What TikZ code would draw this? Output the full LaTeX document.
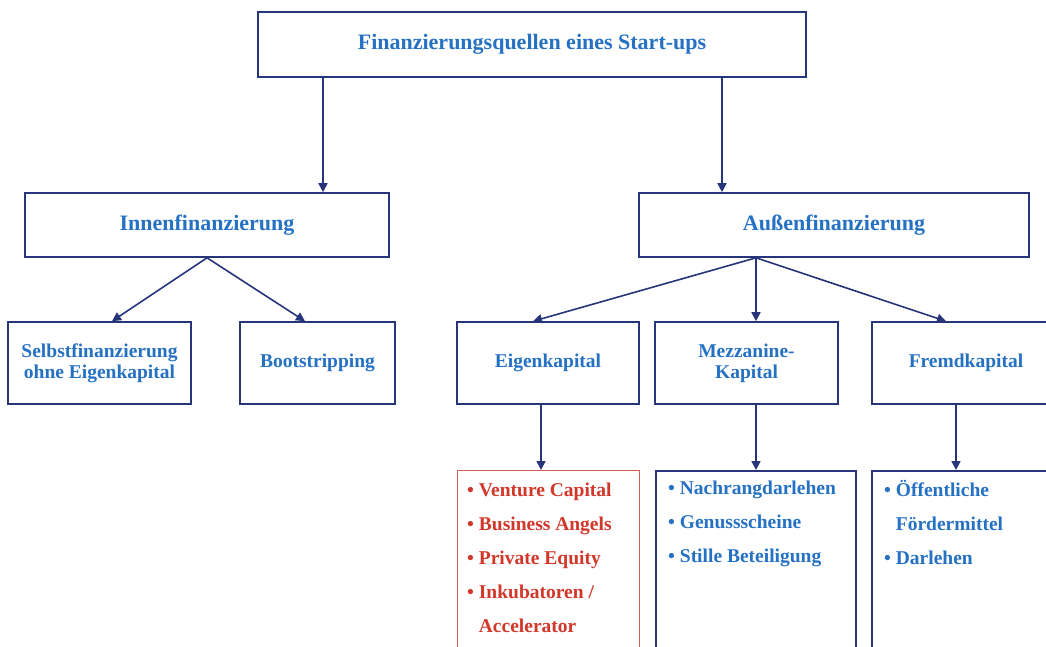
\documentclass[tikz,border=0pt]{standalone}
\usepackage{fontspec}
\setmainfont{Liberation Serif}
\usetikzlibrary{arrows.meta}
\definecolor{navy}{HTML}{27367A}
\definecolor{txtblue}{HTML}{2571C4}
\definecolor{txtred}{HTML}{D2372A}
\definecolor{redline}{HTML}{D06050}
\tikzset{
  box/.style={draw=navy, line width=1.6pt, rectangle, inner sep=0pt, text=txtblue, font=\bfseries},
  big/.style={font=\bfseries\fontsize{22}{26}\selectfont},
  mid/.style={align=center, font=\bfseries\fontsize{19.5}{21}\selectfont},
  arr/.style={draw=navy, line width=1.6pt, -{Triangle[width=9pt,length=9pt]}},
  list/.style={inner sep=0pt, align=left, anchor=base west, font=\bfseries\fontsize{19.5}{34}\selectfont},
}
\begin{document}
\begin{tikzpicture}[x=1pt,y=-1pt]
\useasboundingbox (0,0) rectangle (1046,646);
\clip (0,0) rectangle (1046,646);
\fill[white] (0,0) rectangle (1046,646);
% level 1
\node[box, big, minimum width=548pt, minimum height=65pt] (top) at (532,44.5) {Finanzierungsquellen eines Start-ups};
% level 2
\node[box, big, minimum width=364pt, minimum height=64pt] (innen) at (207,225) {Innenfinanzierung};
\node[box, big, minimum width=390pt, minimum height=64pt] (aussen) at (834,225) {Außenfinanzierung};
% level 3
\node[box, mid, minimum width=183pt, minimum height=82pt] (selbst) at (99.5,363) {Selbstfinanzierung\\ohne Eigenkapital};
\node[box, mid, minimum width=155pt, minimum height=82pt] (boot) at (317.5,363) {Bootstripping};
\node[box, mid, minimum width=182pt, minimum height=82pt] (eigen) at (548,363) {Eigenkapital};
\node[box, mid, minimum width=183pt, minimum height=82pt] (mezz) at (746.5,363) {Mezzanine-\\Kapital};
\node[box, mid, minimum width=188pt, minimum height=82pt] (fremd) at (966,363) {Fremdkapital};
% level 4 boxes
\node[draw=redline, line width=1.3pt, rectangle, minimum width=182pt, minimum height=190pt, inner sep=0pt, anchor=north west] (eigenL) at (457,470) {};
\node[box, minimum width=200pt, minimum height=190pt, anchor=north west] (mezzL) at (655,470) {};
\node[box, minimum width=190pt, minimum height=190pt, anchor=north west] (fremdL) at (871,470) {};
% lists (anchored at the baseline of their last line)
\node[list, text=txtred] (eigenT) at (467,632) {\textbullet\ Venture Capital\\\textbullet\ Business Angels\\\textbullet\ Private Equity\\\textbullet\ Inkubatoren /\\\phantom{\textbullet\ }Accelerator};
\node[list, text=txtblue] (mezzT) at (668,562) {\textbullet\ Nachrangdarlehen\\\textbullet\ Genussscheine\\\textbullet\ Stille Beteiligung};
\node[list, text=txtblue] (fremdT) at (884,564) {\textbullet\ Öffentliche\\\phantom{\textbullet\ }Fördermittel\\\textbullet\ Darlehen};
% connectors
\coordinate (xa) at (323,0);
\coordinate (xb) at (722,0);
\coordinate (xs) at (112,0);
\coordinate (xbo) at (305,0);
\coordinate (xc) at (207,0);
\coordinate (xm) at (756,0);
\coordinate (xe) at (533,0);
\coordinate (xf) at (946,0);
\coordinate (xed) at (541,0);
\coordinate (xfd) at (956,0);
\draw[arr] (top.south -| xa) -- (innen.north -| xa);
\draw[arr] (top.south -| xb) -- (aussen.north -| xb);
\draw[arr] (innen.south -| xc) -- (selbst.north -| xs);
\draw[arr] (innen.south -| xc) -- (boot.north -| xbo);
\draw[arr] (aussen.south -| xm) -- (eigen.north -| xe);
\draw[arr] (aussen.south -| xm) -- (mezz.north -| xm);
\draw[arr] (aussen.south -| xm) -- (fremd.north -| xf);
\draw[arr] (eigen.south -| xed) -- (eigenL.north -| xed);
\draw[arr] (mezz.south -| xm) -- (mezzL.north -| xm);
\draw[arr] (fremd.south -| xfd) -- (fremdL.north -| xfd);
\end{tikzpicture}
\end{document}
